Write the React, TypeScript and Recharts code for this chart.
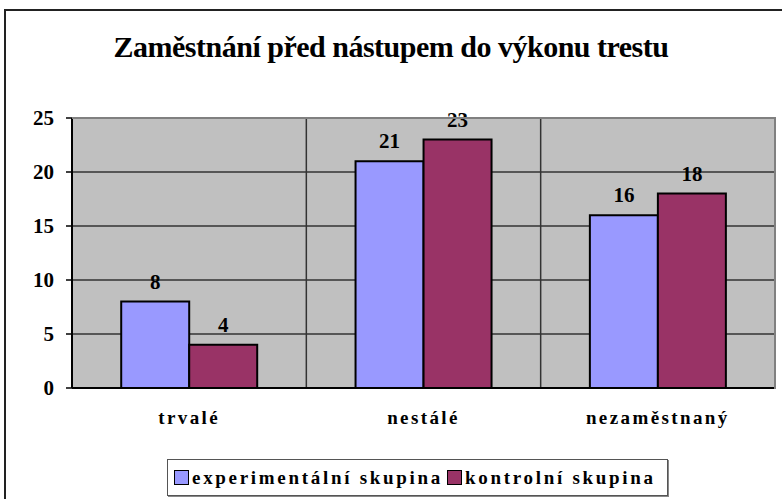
import { BarChart, Bar, XAxis, YAxis, CartesianGrid, LabelList } from 'recharts';

const categories = ['trvalé', 'nestálé', 'nezaměstnaný'];
const experimental = [8, 21, 16];
const control = [4, 23, 18];
const yTicks = [0, 5, 10, 15, 20, 25];
const seriesNames = ['experimentální skupina', 'kontrolní skupina'];
const seriesColors = ['#9999FF', '#993366'];

const data = categories.map((name, i) => ({
  name,
  experimental: experimental[i],
  control: control[i],
}));

const serif = '"Liberation Serif", "Times New Roman", serif';

export default function App() {
  return (
    <div style={{ position: 'absolute', left: 0, top: 0, width: 782, height: 499, background: '#fff', fontFamily: serif, overflow: 'hidden' }}>
      <div
        style={{
          position: 'absolute',
          left: 4,
          top: 9,
          width: 800,
          height: 520,
          borderLeft: '2px solid #222',
          borderTop: '2px solid #222',
        }}
      />
      <div
        style={{
          position: 'absolute',
          left: 0,
          width: 782,
          top: 29,
          textAlign: 'center',
          fontWeight: 'bold',
          fontSize: 30,
          letterSpacing: -0.5,
          lineHeight: '36px',
        }}
      >
        Zaměstnání před nástupem do výkonu trestu
      </div>
      <BarChart
        width={782}
        height={499}
        data={data}
        margin={{ top: 118, right: 7, left: 12, bottom: 81 }}
        barCategoryGap="21%"
        barGap={0}
        style={{ position: 'absolute', left: 0, top: 0 }}
      >
        <CartesianGrid
          fill="#C0C0C0"
          stroke="#333"
          strokeWidth={1.5}
          verticalCoordinatesGenerator={({ offset }: any) =>
            categories.slice(1).map((_, i) => offset.left + ((i + 1) * offset.width) / categories.length)
          }
        />
        <XAxis
          dataKey="name"
          axisLine={{ stroke: '#000', strokeWidth: 2 }}
          tickLine={false}
          height={30}
          tick={{ fill: '#000', fontSize: 19, fontWeight: 'bold', fontFamily: serif, letterSpacing: 2.4 }}
          tickMargin={17}
        />
        <YAxis
          width={60}
          domain={[0, 25]}
          ticks={yTicks}
          axisLine={{ stroke: '#000', strokeWidth: 2 }}
          tickLine={{ stroke: '#000', strokeWidth: 1.5 }}
          tickSize={6}
          tickMargin={12}
          tick={{ fill: '#000', fontSize: 21, fontWeight: 'bold', fontFamily: serif }}
        />
        <Bar dataKey="experimental" name={seriesNames[0]} fill={seriesColors[0]} stroke="#000" strokeWidth={2} isAnimationActive={false}>
          <LabelList dataKey="experimental" position="top" offset={13} style={{ fill: '#000', fontSize: 21, fontWeight: 'bold', fontFamily: serif }} />
        </Bar>
        <Bar dataKey="control" name={seriesNames[1]} fill={seriesColors[1]} stroke="#000" strokeWidth={2} isAnimationActive={false}>
          <LabelList dataKey="control" position="top" offset={13} style={{ fill: '#000', fontSize: 21, fontWeight: 'bold', fontFamily: serif }} />
        </Bar>
      </BarChart>
      <div
        style={{
          position: 'absolute',
          left: 72,
          top: 117,
          width: 702,
          height: 270,
          borderTop: '2px solid #808080',
          borderRight: '2px solid #808080',
          pointerEvents: 'none',
        }}
      />
      <div
        style={{
          position: 'absolute',
          left: 167,
          top: 459,
          width: 501,
          height: 37,
          border: '1px solid #555',
          boxShadow: '1px 1px 0 #888',
          display: 'flex',
          alignItems: 'center',
          paddingLeft: 6,
          boxSizing: 'border-box',
          fontWeight: 'bold',
          fontSize: 19,
          letterSpacing: 2.7,
          whiteSpace: 'nowrap',
        }}
      >
        {seriesNames.map((n, i) => (
          <span key={n} style={{ display: 'flex', alignItems: 'center', marginRight: 4 }}>
            <span
              style={{
                display: 'inline-block',
                width: 13,
                height: 13,
                background: seriesColors[i],
                border: '1.5px solid #000',
                marginRight: 3,
              }}
            />
            {n}
          </span>
        ))}
      </div>
    </div>
  );
}
